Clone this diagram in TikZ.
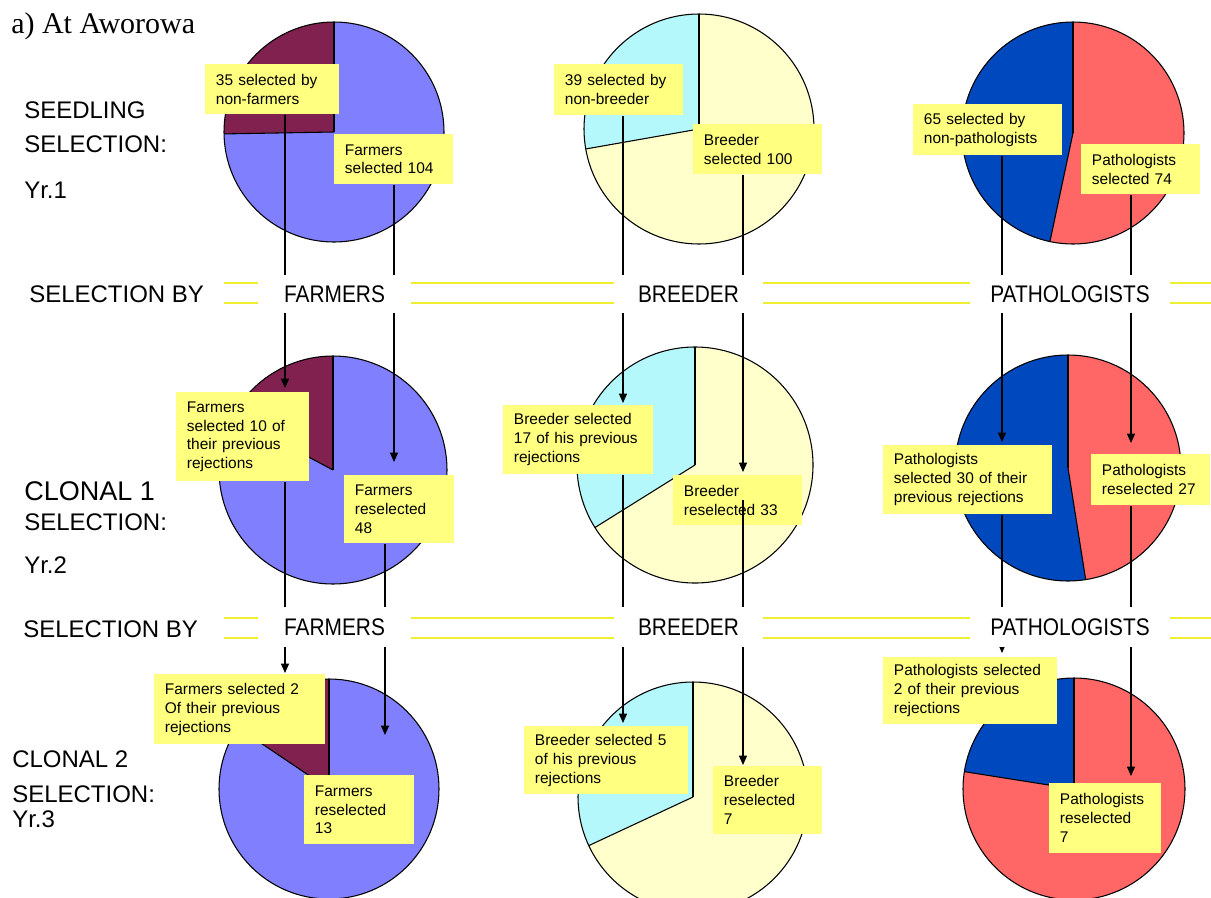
\documentclass[tikz,border=0pt]{standalone}
\usepackage{fontspec}
\setmainfont{Liberation Sans}
\newfontfamily\titlefont{Liberation Serif}
\usepackage{graphicx}
\usetikzlibrary{arrows.meta}
\definecolor{farmbig}{RGB}{128,128,255}
\definecolor{farmsmall}{RGB}{128,33,80}
\definecolor{breedbig}{RGB}{255,255,204}
\definecolor{breedsmall}{RGB}{180,248,252}
\definecolor{pathblue}{RGB}{0,72,190}
\definecolor{pathred}{RGB}{255,102,102}
\definecolor{boxyellow}{RGB}{255,255,128}
\definecolor{bandyellow}{RGB}{238,238,50}
\newcommand\pieC[7]{%
  \pgfmathsetmacro\rr{#4*0.75}%
  \coordinate (#1) at (#2,#3);
  \fill[#6] (#1) circle[radius=\rr pt];
  \fill[#7] (#1) -- ++(90:\rr pt) arc[start angle=90,end angle=#5,radius=\rr pt] -- cycle;
  \draw[pieline] (#1) -- ++(90:\rr pt);
  \draw[pieline] (#1) -- ++(#5:\rr pt);
  \draw[pieline] (#1) circle[radius=\rr pt];
}
\newcommand\lbl[6]{%
  \node[lbox,minimum width=#4*0.75pt,minimum height=#5*0.75pt,text width=#4*0.75pt-16pt] (#1) at (#2,#3) {#6};
}
\begin{document}
\begin{tikzpicture}[x=0.75pt,y=0.75pt,
  pieline/.style={draw=black,line width=0.8pt},
  conn/.style={draw=black,line width=0.9pt,-{Triangle[length=7pt,width=6pt]}},
  lbox/.style={fill=boxyellow,anchor=north west,align=left,inner xsep=8pt,inner ysep=0pt,font=\fontsize{11.6}{14.2}\selectfont},
  side/.style={anchor=base west,inner sep=0pt,font=\fontsize{18}{21}\selectfont},
  sidebig/.style={anchor=base west,inner sep=0pt,font=\fontsize{20.25}{23}\selectfont},
  band/.style={draw=bandyellow,line width=1.5pt},
  gapbox/.style={fill=white,inner sep=0pt,font=\fontsize{18}{21}\selectfont}]
\useasboundingbox (0,0) rectangle (1211,-897);
\clip (0,0) rectangle (1211,-897);

% pies
\pieC{p1}{334}{-132}{110}{181}{farmbig}{farmsmall}
\pieC{p2}{699}{-129}{115}{190}{breedbig}{breedsmall}
\pieC{p3}{1073}{-133}{111}{258}{pathred}{pathblue}
\pieC{p4}{333}{-470}{114}{152}{farmbig}{farmsmall}
\pieC{p5}{695}{-465}{118}{212}{breedbig}{breedsmall}
\pieC{p6}{1068}{-468}{113}{279}{pathred}{pathblue}
\pieC{p7}{329}{-789}{110}{146}{farmbig}{farmsmall}
\pieC{p8}{693}{-797}{115}{205}{breedbig}{breedsmall}
\pieC{p9}{1074}{-789}{111}{171}{pathred}{pathblue}

% selection bands
\draw[band] (224,-283) -- (1211,-283);
\draw[band] (224,-303) -- (1211,-303);
\draw[band] (224,-618) -- (1211,-618);
\draw[band] (224,-638) -- (1211,-638);

% texts on left
\node[anchor=base west,inner sep=0pt,font=\titlefont\fontsize{22.5}{26}\selectfont] (title) at (11,-33) {a) At Aworowa};
\node[side] (seed) at (24,-118) {SEEDLING};
\node[side] (sel1) at (24,-152) {SELECTION:};
\node[side] (yr1) at (24,-198) {Yr.1};
\node[sidebig] (cl1) at (24,-500) {CLONAL 1};
\node[side] (sel2) at (24,-530) {SELECTION:};
\node[side] (yr2) at (24,-573) {Yr.2};
\node[side] (cl2) at (12,-767) {CLONAL 2};
\node[side] (sel3) at (12,-802) {SELECTION:};
\node[side] (yr3) at (12,-827) {Yr.3};
\node[side] (sb1) at (29,-302) {SELECTION BY};
\node[side] (sb2) at (23,-637) {SELECTION BY};

% label boxes
\lbl{b1}{205}{-64}{134}{50}{35 selected by\\non-farmers}
\lbl{b2}{334}{-134}{119}{50}{Farmers\\selected 104}
\lbl{b3}{554}{-64}{129}{51}{39 selected by\\non-breeder}
\lbl{b4}{693}{-124}{129}{50}{Breeder\\selected 100}
\lbl{b5}{913}{-104}{149}{51}{65 selected by\\non-pathologists}
\lbl{b6}{1081}{-144}{119}{50}{Pathologists\\selected 74}
\lbl{b7}{176}{-392}{133}{89}{Farmers\\selected 10 of\\their previous\\rejections}
\lbl{b8}{344}{-475}{110}{68}{Farmers\\reselected\\48}
\lbl{b9}{503}{-405}{150}{69}{Breeder selected\\17 of his previous\\rejections}
\lbl{b10}{673}{-475}{129}{50}{Breeder\\reselected 33}
\lbl{b11}{883}{-445}{169}{69}{Pathologists\\selected 30 of their\\previous rejections}
\lbl{b12}{1091}{-454}{119}{51}{Pathologists\\reselected 27}
\lbl{b13}{154}{-674}{171}{70}{Farmers selected 2\\Of their previous\\rejections}
\lbl{b14}{304}{-775}{110}{69}{Farmers\\reselected\\13}
\lbl{b15}{524}{-726}{164}{68}{Breeder selected 5\\of his previous\\rejections}
\lbl{b16}{713}{-766}{109}{68}{Breeder\\reselected\\7}
\lbl{b17}{883}{-657}{174}{67}{Pathologists selected\\2 of their previous\\rejections}
\lbl{b18}{1049}{-783}{112}{70}{Pathologists\\reselected\\7}

% arrow tips
\coordinate (tf1) at (285,-388);
\coordinate (tf2) at (394,-462);
\coordinate (tb1) at (623,-403);
\coordinate (tb2) at (743,-472);
\coordinate (tp1) at (1002,-442);
\coordinate (tp2) at (1131,-443);
\coordinate (uf1) at (285,-673);
\coordinate (uf2) at (385,-735);
\coordinate (ub1) at (623,-723);
\coordinate (ub2) at (743,-765);
\coordinate (up1) at (1002,-653);
\coordinate (up2) at (1131,-776);

% connectors
\draw[conn] (b1.south -| tf1) -- (tf1);
\draw[conn] (b2.south -| tf2) -- (tf2);
\draw[conn] (b3.south -| tb1) -- (tb1);
\draw[conn] (b4.south -| tb2) -- (tb2);
\draw[conn] (b5.south -| tp1) -- (tp1);
\draw[conn] (b6.south -| tp2) -- (tp2);
\draw[conn] (b7.south -| uf1) -- (uf1);
\draw[conn] (b8.south -| uf2) -- (uf2);
\draw[conn] (b9.south -| ub1) -- (ub1);
\draw[conn] (b10.center -| ub2) -- (ub2);
\draw[conn] (b11.south -| up1) -- (up1);
\draw[conn] (b12.south -| up2) -- (up2);

% band labels (white, covering lines)
\node[gapbox,minimum width=153*0.75pt,minimum height=38*0.75pt] (gf1) at (334.5,-294) {\scalebox{0.87}[1]{FARMERS}};
\node[gapbox,minimum width=149*0.75pt,minimum height=38*0.75pt] (gb1) at (688.5,-294) {\scalebox{0.87}[1]{BREEDER}};
\node[gapbox,minimum width=200*0.75pt,minimum height=38*0.75pt] (gp1) at (1070,-294) {\scalebox{0.87}[1]{PATHOLOGISTS}};
\node[gapbox,minimum width=153*0.75pt,minimum height=40*0.75pt] (gf2) at (334.5,-627) {\scalebox{0.87}[1]{FARMERS}};
\node[gapbox,minimum width=149*0.75pt,minimum height=40*0.75pt] (gb2) at (688.5,-627) {\scalebox{0.87}[1]{BREEDER}};
\node[gapbox,minimum width=200*0.75pt,minimum height=40*0.75pt] (gp2) at (1070,-627) {\scalebox{0.87}[1]{PATHOLOGISTS}};
\end{tikzpicture}
\end{document}
